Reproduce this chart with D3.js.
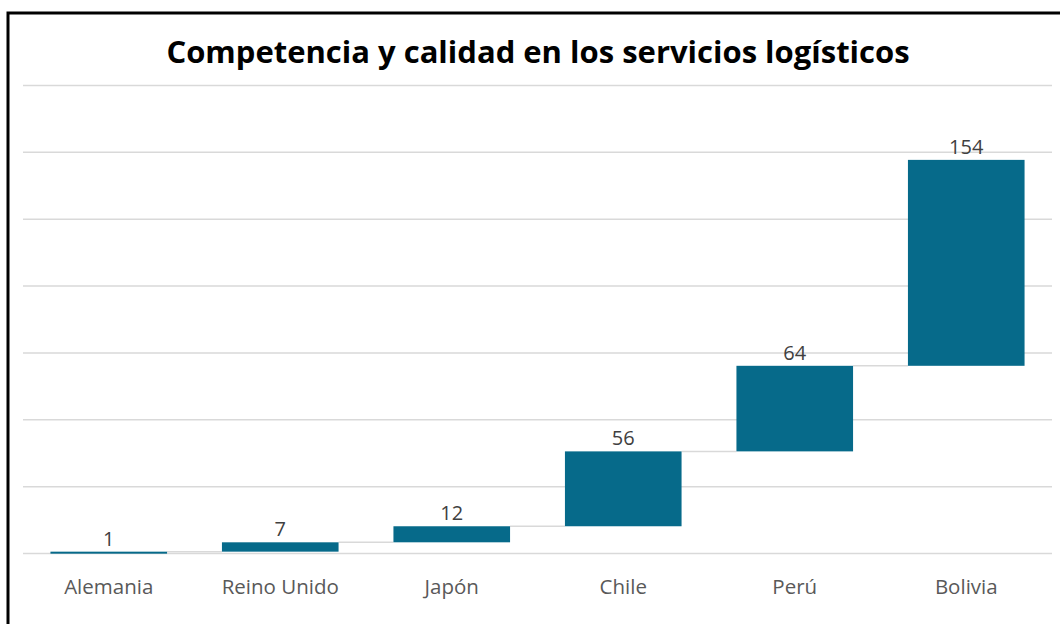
<!DOCTYPE html>
<html>
<head>
<meta charset="utf-8">
<script src="https://cdn.jsdelivr.net/npm/d3@7"></script>
<style>
  body { margin: 0; background: #fff; }
  svg { display: block; }
</style>
</head>
<body>
<div id="chart"></div>
<script>
// data
const paises = ['Alemania', 'Reino Unido', 'Japón', 'Chile', 'Perú', 'Bolivia'];
const valores = [1, 7, 12, 56, 64, 154];
const ejeTicks = [0, 50, 100, 150, 200, 250, 300, 350];

const width = 1060, height = 624;
const margin = {left: 23, right: 8, top: 85, bottom: 71};

const svg = d3.select('#chart').append('svg')
    .attr('width', width)
    .attr('height', height);

// outer frame
svg.append('rect')
    .attr('x', 8).attr('y', 13)
    .attr('width', 1070).attr('height', 640)
    .attr('fill', '#fff')
    .attr('stroke', '#000')
    .attr('stroke-width', 3);

const x = d3.scaleBand()
    .domain(paises)
    .range([margin.left, width - margin.right])
    .paddingInner(0.32)
    .paddingOuter(0.16);

const y = d3.scaleLinear()
    .domain([0, 350])
    .range([height - margin.bottom, margin.top]);

// gridlines
svg.append('g').selectAll('line')
    .data(ejeTicks)
    .enter().append('line')
    .attr('x1', margin.left)
    .attr('x2', width - margin.right)
    .attr('y1', d => y(d) + 0.5)
    .attr('y2', d => y(d) + 0.5)
    .attr('stroke', '#d9d9d9')
    .attr('stroke-width', 1.5);

// waterfall steps
let acum = 0;
const pasos = valores.map(function(v, i) {
    const s = {pais: paises[i], v: v, desde: acum, hasta: acum + v};
    acum += v;
    return s;
});

// connector lines
svg.append('g').selectAll('line')
    .data(pasos.slice(0, -1))
    .enter().append('line')
    .attr('x1', d => x(d.pais) + x.bandwidth())
    .attr('x2', (d, i) => x(paises[i + 1]))
    .attr('y1', d => y(d.hasta))
    .attr('y2', d => y(d.hasta))
    .attr('stroke', '#d9d9d9')
    .attr('stroke-width', 1.5);

// bars
svg.append('g').selectAll('rect')
    .data(pasos)
    .enter().append('rect')
    .attr('x', d => x(d.pais))
    .attr('width', x.bandwidth())
    .attr('y', d => y(d.hasta))
    .attr('height', d => Math.max(2, y(d.desde) - y(d.hasta)))
    .attr('fill', '#066a8a');

// value labels
svg.append('g').selectAll('text')
    .data(pasos)
    .enter().append('text')
    .attr('x', d => x(d.pais) + x.bandwidth() / 2)
    .attr('y', d => y(d.hasta) - 6)
    .attr('text-anchor', 'middle')
    .style('font-family', '"Open Sans", "Noto Sans", sans-serif')
    .style('font-size', '20px')
    .style('fill', '#404040')
    .text(d => d.v);

// category labels
svg.append('g').selectAll('text')
    .data(paises)
    .enter().append('text')
    .attr('x', d => x(d) + x.bandwidth() / 2)
    .attr('y', 594)
    .attr('text-anchor', 'middle')
    .style('font-family', '"Open Sans", "Noto Sans", sans-serif')
    .style('font-size', '20.5px')
    .style('fill', '#595959')
    .text(d => d);

// title
svg.append('text')
    .attr('x', 538)
    .attr('y', 63)
    .attr('text-anchor', 'middle')
    .style('font-family', '"Open Sans", "Noto Sans", sans-serif')
    .style('font-weight', 'bold')
    .style('font-size', '31px')
    .style('fill', '#000')
    .text('Competencia y calidad en los servicios logísticos');
</script>
</body>
</html>
